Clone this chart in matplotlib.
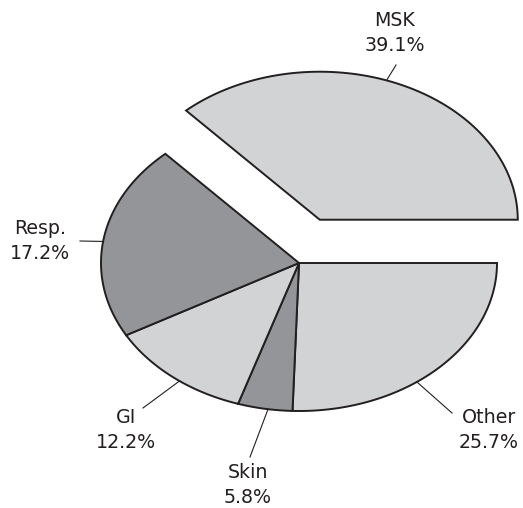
import numpy as np
import matplotlib.pyplot as plt
from matplotlib.patches import Polygon


# data (clockwise from 3 o'clock)
labels = ["Other", "Skin", "GI", "Resp.", "MSK"]
values = [25.7, 5.8, 12.2, 17.2, 39.1]
colors = ["#d1d3d4", "#939598", "#d1d3d4", "#939598", "#d1d3d4"]
explode = [0, 0, 0, 0, 48]

# layout (pixel-like units, y down)
cx, cy = 299, 263
rx, ry = 198, 148
angle_nudge = [1, 1, 0, 2, -6]
leader_end = [(452, 413), (250, 457), (143, 408), (80, 241), (396, 65)]
text_pos = [(489, 430), (248, 485), (126, 430), (40, 241), (395, 33)]

edge = "#231f20"


def ell_r(theta):
    # polar radius of the ellipse at true angle theta (radians)
    return rx * ry / np.sqrt((ry * np.cos(theta)) ** 2 + (rx * np.sin(theta)) ** 2)


def ell_pt(x0, y0, deg):
    t = np.radians(deg)
    r = ell_r(t)
    return x0 + r * np.cos(t), y0 - r * np.sin(t)


fig = plt.figure(figsize=(5.23, 5.08), dpi=100)
ax = fig.add_axes([0, 0, 1, 1])
ax.set_xlim(0, 523)
ax.set_ylim(508, 0)
ax.axis("off")

start = 0.0
for i, v in enumerate(values):
    span = v / sum(values) * 360
    a1, a2 = start, start - span
    mid = (a1 + a2) / 2 + angle_nudge[i]
    ox = cx + explode[i] * np.cos(np.radians(mid))
    oy = cy - explode[i] * np.sin(np.radians(mid))
    angs = np.linspace(a1, a2, 200)
    pts = [(ox, oy)] + [ell_pt(ox, oy, a) for a in angs]
    ax.add_patch(Polygon(pts, closed=True, facecolor=colors[i],
                         edgecolor=edge, linewidth=1.4, joinstyle="miter"))

    # leader + label
    ax_, ay_ = ell_pt(ox, oy, mid)
    ex, ey = leader_end[i]
    ax.plot([ax_, ex], [ay_, ey], color=edge, linewidth=0.8)
    tx, ty = text_pos[i]
    ax.text(tx, ty, "%s\n%.1f%%" % (labels[i], v), ha="center", va="center",
            multialignment="center", fontsize=13.7, color=edge,
            family="DejaVu Sans", linespacing=1.35)
    start = a2

fig.savefig("out.png", dpi=100)
